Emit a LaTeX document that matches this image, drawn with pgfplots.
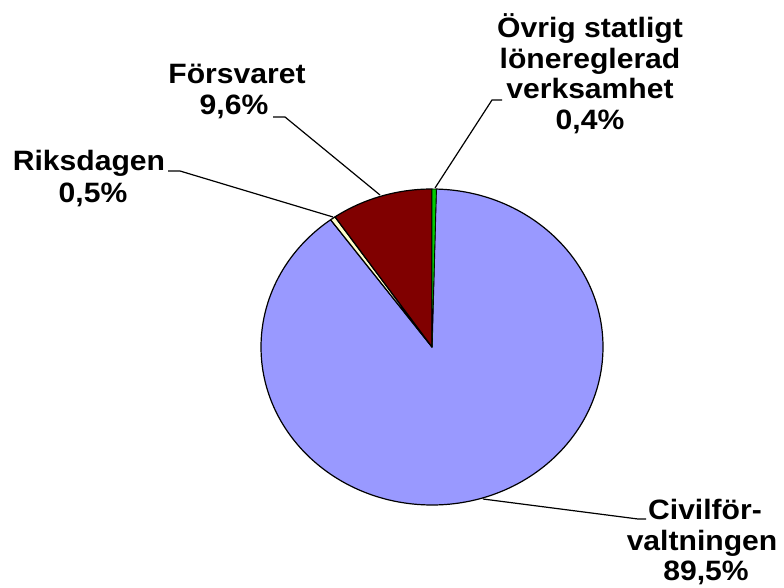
\documentclass[border=0pt]{standalone}
\usepackage{fontspec}
\setmainfont{Liberation Sans}
\usepackage{graphicx}
\usepackage{pgfplots}
\pgfplotsset{compat=1.18}
\usepackage{pgfplotstable}
\definecolor{civil}{HTML}{9999FF}
\definecolor{forsvar}{HTML}{800000}
\definecolor{riksdag}{HTML}{FFFFCC}
\definecolor{ovrig}{HTML}{00CC00}
\pgfplotstableread{
part share
Ovrig 0.4
Civil 89.5
Riksdagen 0.5
Forsvaret 9.6
}\piedata
\newcommand\lblfont{\fontsize{28}{31}\selectfont\bfseries}
\newcommand\lbl[3]{\node[anchor=base,inner sep=0pt,font=\lblfont] at (axis cs:#1,#2) {\scalebox{1.075}[1]{#3}};}
\begin{document}
\begin{tikzpicture}
\pgfplotstablegetelem{0}{share}\of\piedata \let\sA\pgfplotsretval
\pgfplotstablegetelem{1}{share}\of\piedata \let\sB\pgfplotsretval
\pgfplotstablegetelem{2}{share}\of\piedata \let\sC\pgfplotsretval
\pgfplotstablegetelem{3}{share}\of\piedata \let\sD\pgfplotsretval
\pgfmathsetmacro\aO{90}
\pgfmathsetmacro\aA{\aO-3.6*\sA}
\pgfmathsetmacro\aB{\aA-3.6*\sB}
\pgfmathsetmacro\aC{\aB-3.6*\sC}
\pgfmathsetmacro\aD{\aC-3.6*\sD}
\begin{axis}[width=784pt,height=587pt,scale only axis,
  xmin=0,xmax=784,ymin=0,ymax=587,hide axis,clip=false]
\path (axis cs:0,0) rectangle (axis cs:784,587);
\filldraw[fill=civil,draw=black,line width=1.2pt,line join=round]
  (axis cs:432,240) -- ++(\aA:171pt and 158pt)
  arc[start angle=\aA,end angle=\aB,x radius=171pt,y radius=158pt] -- cycle;
\filldraw[fill=riksdag,draw=black,line width=1.2pt,line join=round]
  (axis cs:432,240) -- ++(\aB:171pt and 158pt)
  arc[start angle=\aB,end angle=\aC,x radius=171pt,y radius=158pt] -- cycle;
\filldraw[fill=forsvar,draw=black,line width=1.2pt,line join=round]
  (axis cs:432,240) -- ++(\aC:171pt and 158pt)
  arc[start angle=\aC,end angle=\aD,x radius=171pt,y radius=158pt] -- cycle;
\filldraw[fill=ovrig,draw=black,line width=0.6pt,line join=round]
  (axis cs:432,240) -- ++(\aO:171pt and 158pt)
  arc[start angle=\aO,end angle=\aA,x radius=171pt,y radius=158pt] -- cycle;
% leader lines
\draw[line width=1.2pt] (axis cs:273,470) -- (axis cs:285,470) -- (axis cs:380,392);
\draw[line width=1.2pt] (axis cs:168,416) -- (axis cs:180,416) -- (axis cs:333,370);
\draw[line width=1.2pt] (axis cs:502,487) -- (axis cs:492,487) -- (axis cs:435,399);
\draw[line width=1.2pt] (axis cs:483,88) -- (axis cs:638,68) -- (axis cs:646,68);
% labels
\lbl{237}{503}{Försvaret}
\lbl{234}{472}{9,6\%}
\lbl{89}{416}{Riksdagen}
\lbl{93}{384}{0,5\%}
\lbl{590}{549}{Övrig statligt}
\lbl{590}{518}{lönereglerad}
\lbl{590}{488}{verksamhet}
\lbl{590}{457}{0,4\%}
\lbl{705}{68}{Civilför-}
\lbl{702}{37}{valtningen}
\lbl{706}{7}{89,5\%}
\end{axis}
\end{tikzpicture}
\end{document}
